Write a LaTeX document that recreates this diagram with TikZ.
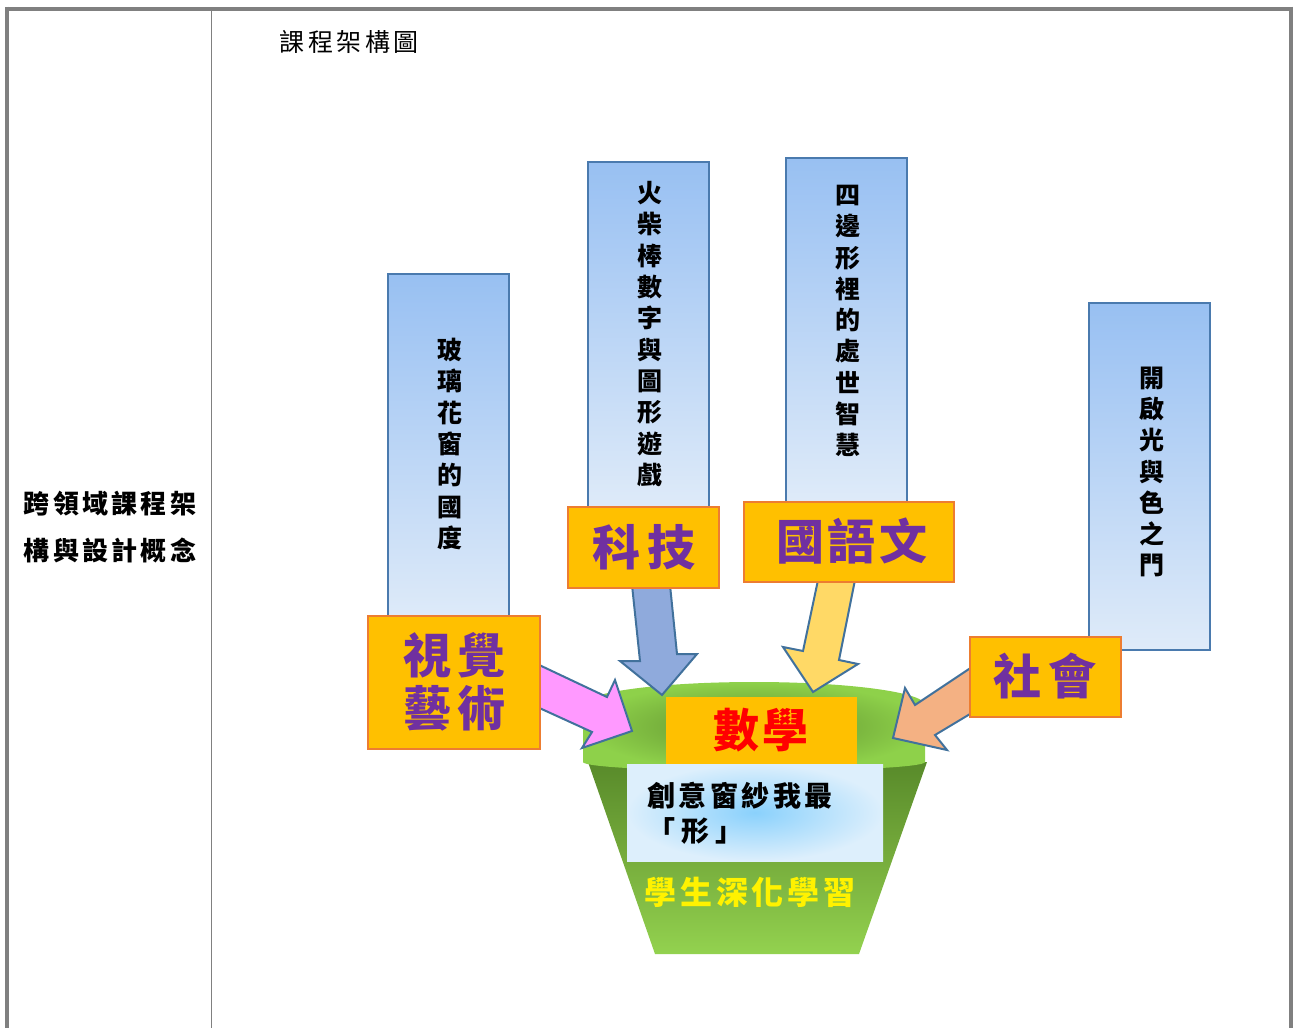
\documentclass[tikz,border=0pt]{standalone}
\usepackage{fontspec}
\setmainfont{Noto Sans CJK TC}
\usetikzlibrary{shapes.geometric}
\definecolor{framegray}{HTML}{808080}
\definecolor{vbtop}{HTML}{98C0F2}
\definecolor{vbbot}{HTML}{DFEBF9}
\definecolor{vbline}{HTML}{4A7AAE}
\definecolor{orfill}{HTML}{FFC000}
\definecolor{orline}{HTML}{ED7D31}
\definecolor{purp}{HTML}{7030A0}
\definecolor{arline}{HTML}{41719C}
\definecolor{pinkA}{HTML}{FF99FF}
\definecolor{blueA}{HTML}{8FAADC}
\definecolor{yellA}{HTML}{FFD966}
\definecolor{salmA}{HTML}{F4B183}
\definecolor{rimin}{HTML}{5E8E2E}
\definecolor{rimout}{HTML}{8ED14A}
\definecolor{bowltop}{HTML}{588A2A}
\definecolor{bowlmid}{HTML}{76AC3C}
\definecolor{bowlbot}{HTML}{93D24F}
\definecolor{txin}{HTML}{8AD1FC}
\definecolor{txout}{HTML}{DDEFFC}
\tikzset{
  vbox/.style={draw=vbline, line width=2pt, top color=vbtop, bottom color=vbbot},
  vtext/.style={align=center, inner sep=0pt, font=\bfseries\fontsize{25}{31.3}\selectfont},
  obox/.style={draw=orline, line width=2.5pt, fill=orfill},
  otext/.style={inner sep=0pt, text=purp, font=\bfseries\fontsize{48}{53}\selectfont, align=center},
  barrow/.style={draw=arline, line width=2pt, line join=miter},
  frameline/.style={draw=framegray},
}
\begin{document}
\begin{tikzpicture}[x=1pt,y=-1pt]
\useasboundingbox (0,0) rectangle (1293,1028);
% frame
\draw[frameline, line width=4pt] (5,8.7) -- (1293,8.7);
\draw[frameline, line width=4pt] (7,6.7) -- (7,1028);
\draw[frameline, line width=4pt] (1291,6.7) -- (1291,1028);
\draw[frameline, line width=1.2pt] (211.5,10) -- (211.5,1028);
% texts of frame
\node[inner sep=0pt, font=\fontsize{25}{30}\selectfont] (title) at (349,42) {課\kern3.5pt程\kern3.5pt架\kern3.5pt構\kern3.5pt圖};
\node[inner sep=0pt, align=center, font=\bfseries\fontsize{26}{47}\selectfont] (left) at (110,527)
  {跨\kern3.3pt領\kern3.3pt域\kern3.3pt課\kern3.3pt程\kern3.3pt架\\構\kern3.3pt與\kern3.3pt設\kern3.3pt計\kern3.3pt概\kern3.3pt念};
% vertical boxes
\path[vbox] (388,274) rectangle (509,625);
\node[vtext] (v1) at (450,444) {玻\\璃\\花\\窗\\的\\國\\度};
\path[vbox] (588,162) rectangle (709,512);
\node[vtext] (v2) at (650,334) {火\\柴\\棒\\數\\字\\與\\圖\\形\\遊\\戲};
\path[vbox] (786,158) rectangle (907,505);
\node[vtext] (v3) at (848,321) {四\\邊\\形\\裡\\的\\處\\世\\智\\慧};
\path[vbox] (1089,303) rectangle (1210,650);
\node[vtext] (v4) at (1152,472) {開\\啟\\光\\與\\色\\之\\門};
% bowl
\path[top color=bowltop, bottom color=bowlbot, middle color=bowlmid] (588,762) -- (927,762) -- (859,954) -- (655,954) -- cycle;
\path[inner color=rimin, outer color=rimout] (583,762) -- (583,705) arc[start angle=180, end angle=360, x radius=171, y radius=23] -- (925,762) arc[start angle=0, end angle=180, x radius=171, y radius=9] -- cycle;
% arrows
\draw[barrow, fill=pinkA] (535,663) -- (607,697) -- (615,680) -- (632,731) -- (582,748) -- (592,732) -- (535,706) -- cycle;
\draw[barrow, fill=blueA] (632,585) -- (640,661) -- (620,661) -- (662,695) -- (697,654) -- (677,654) -- (670,585) -- cycle;
\draw[barrow, fill=yellA] (818,580) -- (803,651) -- (783,647) -- (813,692) -- (858,664) -- (839,660) -- (855,580) -- cycle;
\draw[barrow, fill=salmA] (975,665) -- (915,705) -- (905,688) -- (893,738) -- (947,750) -- (935,735) -- (975,711) -- cycle;
% center boxes
\fill[orfill] (666,697) rectangle (857,764);
\node[inner sep=0pt, text=red, font=\bfseries\fontsize{46}{50}\selectfont] (math) at (761,730) {數\kern4pt學};
\path[inner color=txin, outer color=txout] (627,764) rectangle (883,861);
\node[inner sep=0pt, anchor=west, font=\bfseries\fontsize{28}{32}\selectfont] (t1) at (647,796) {創\kern3.5pt意\kern3.5pt窗\kern3.5pt紗\kern3.5pt我\kern3.5pt最};
\node[inner sep=0pt, anchor=west, font=\bfseries\fontsize{28}{32}\selectfont] (t2) at (647,831) {「\kern6pt形\kern6pt」};
\node[inner sep=0pt, text=yellow, font=\bfseries\fontsize{32}{36}\selectfont] (t3) at (750,892) {學\kern3.7pt生\kern3.7pt深\kern3.7pt化\kern3.7pt學\kern3.7pt習};
% orange boxes
\path[obox] (368,616) rectangle (540,749);
\node[otext, font=\bfseries\fontsize{48}{53}\selectfont] (visual) at (454,682) {視\kern6pt覺\\藝\kern6pt術};
\path[obox] (568,507) rectangle (719,588);
\node[otext] (tech) at (644,547) {科\kern7pt技};
\path[obox] (744,502) rectangle (954,582);
\node[otext] (chinese) at (852,541) {國\kern4pt語\kern4pt文};
\path[obox] (970,637) rectangle (1121,717);
\node[otext] (social) at (1045,676) {社\kern7pt會};
\end{tikzpicture}
\end{document}
